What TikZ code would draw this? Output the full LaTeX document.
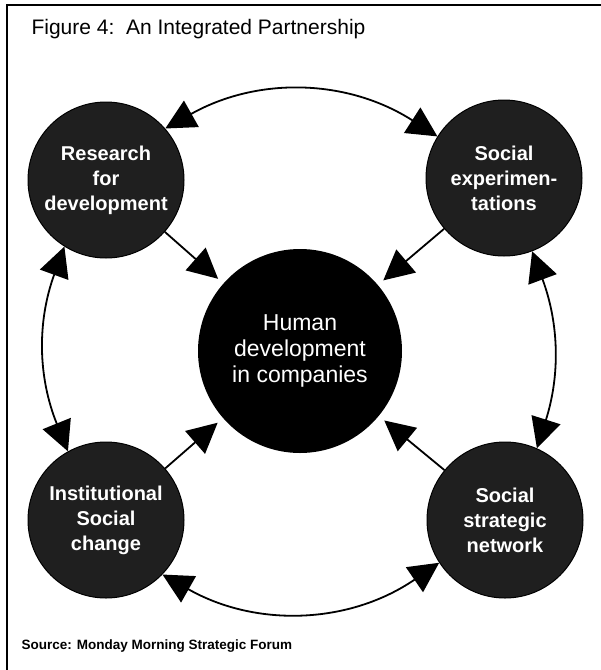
\documentclass[tikz,border=0pt]{standalone}
\usepackage{fontspec}
\setmainfont{Liberation Sans}
\usetikzlibrary{arrows.meta}
\begin{document}
\begin{tikzpicture}[x=1pt,y=-1pt,
  outer/.style={circle,fill=black!88,draw=black,line width=1pt,minimum size=156pt,inner sep=0pt,
    text=white,align=center,font=\fontsize{20}{25}\selectfont\bfseries},
  hub/.style={circle,fill=black,minimum size=204pt,inner sep=0pt,
    text=white,align=center,font=\fontsize{23}{26}\selectfont},
  ring/.style={line width=1.8pt,{Triangle[length=30pt,width=30pt]}-{Triangle[length=30pt,width=30pt]}},
  inarrow/.style={line width=1.8pt,-{Triangle[length=30pt,width=30pt]},shorten >=7pt},
  frame/.style={line width=1.6pt}
]
\useasboundingbox (0,0) rectangle (601,670);
\coordinate (fa) at (601,5);
\coordinate (fb) at (7,5);
\coordinate (fc) at (7,670);
\draw[frame] (fa) -- (fb) -- (fc);

\node[anchor=base west,font=\fontsize{21}{24}\selectfont] (title) at (28,34) {Figure 4:\ \ An Integrated Partnership};
\node[anchor=base west,font=\fontsize{13.5}{16}\selectfont\bfseries] (src) at (18,649) {Source: Monday Morning Strategic Forum};

\node[outer] (tl) at (106,180) {Research\\for\\development};
\node[outer] (tr) at (504,178) {Social\\experimen-\\tations};
\node[outer] (bl) at (106,520) {Institutional\\Social\\change};
\node[outer] (br) at (505,520) {Social\\strategic\\network};
\node[hub] (hub) at (300,351) {Human\\development\\in companies};

\draw[ring] (tl.41) to[bend left=31] (tr.148);
\draw[ring] (tr.291) to[bend left=19] (br.66);
\draw[ring] (br.213) to[bend left=32] (bl.316);
\draw[ring] (bl.119) to[bend left=21] (tl.238);

\draw[inarrow] (tl) -- (hub);
\draw[inarrow] (tr) -- (hub);
\draw[inarrow] (bl) -- (hub);
\draw[inarrow] (br) -- (hub);
\end{tikzpicture}
\end{document}
